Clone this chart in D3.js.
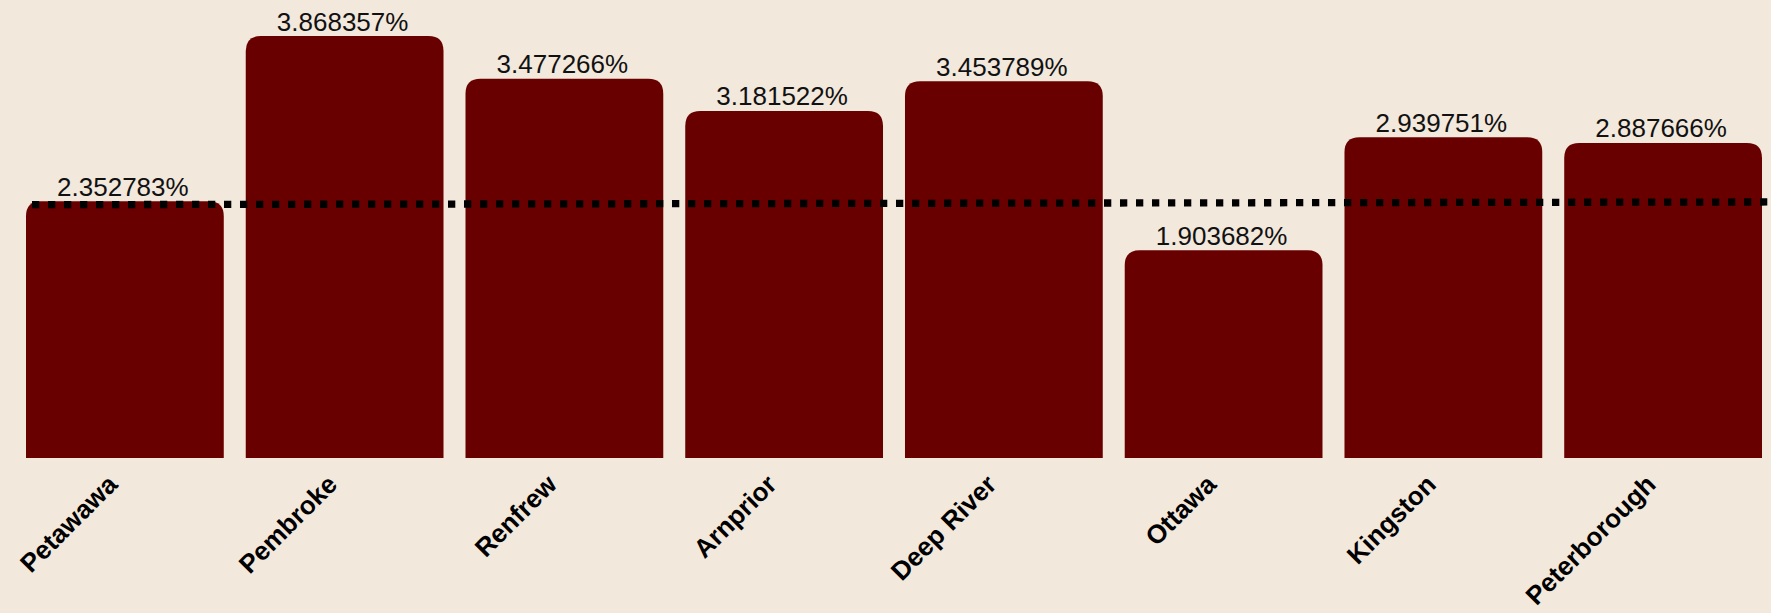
<!DOCTYPE html>
<html>
<head>
<meta charset="utf-8">
<script src="https://cdn.jsdelivr.net/npm/d3@7"></script>
<style>
  html, body { margin: 0; padding: 0; background: #F2E8DC; }
  svg { display: block; }
</style>
</head>
<body>
<svg id="chart" width="1771" height="613"></svg>
<script>
const categories = ["Petawawa", "Pembroke", "Renfrew", "Arnprior", "Deep River", "Ottawa", "Kingston", "Peterborough"];
const values = [2.352783, 3.868357, 3.477266, 3.181522, 3.453789, 1.903682, 2.939751, 2.887666];
const valueLabels = ["2.352783%", "3.868357%", "3.477266%", "3.181522%", "3.453789%", "1.903682%", "2.939751%", "2.887666%"];
const referenceLine = [2.322, 2.347]; // start and end values of dotted line

const W = 1771, H = 613;
const svg = d3.select("#chart");
svg.append("rect").attr("width", W).attr("height", H).attr("fill", "#F2E8DC");

const x = d3.scaleBand().domain(categories).range([26, 1762]).paddingInner(0.1).paddingOuter(0);
const y = d3.scaleLinear().domain([0, d3.max(values)]).range([458, 36]);

const r = 15;
function barPath(x0, w, yTop, yBot) {
  return `M${x0},${yBot} L${x0},${yTop + r} Q${x0},${yTop} ${x0 + r},${yTop} L${x0 + w - r},${yTop} Q${x0 + w},${yTop} ${x0 + w},${yTop + r} L${x0 + w},${yBot} Z`;
}

svg.append("g").selectAll("path").data(categories).join("path")
  .attr("d", (c, i) => barPath(x(c), x.bandwidth(), y(values[i]), y(0)))
  .attr("fill", "#690000");

svg.append("g").selectAll("text").data(categories).join("text")
  .attr("x", c => x(c) + x.bandwidth() / 2 - 2)
  .attr("y", (c, i) => y(values[i]) - 5.5)
  .attr("text-anchor", "middle")
  .attr("font-family", "'Liberation Sans', Arial, sans-serif")
  .attr("font-size", 26)
  .attr("fill", "#111")
  .text((c, i) => valueLabels[i]);

// dotted reference line
svg.append("line")
  .attr("x1", x.range()[0] + 6)
  .attr("x2", W)
  .attr("y1", y(referenceLine[0]))
  .attr("y2", y(referenceLine[1]))
  .attr("stroke", "#000")
  .attr("stroke-width", 7.3)
  .attr("stroke-dasharray", "7.3,8.7");

// x axis labels
svg.append("g").selectAll("text").data(categories).join("text")
  .attr("transform", c => `translate(${x(c) + x.bandwidth() / 2 - 6},486) rotate(-45)`)
  .attr("text-anchor", "end")
  .attr("font-family", "'Liberation Sans', Arial, sans-serif")
  .attr("font-weight", "bold")
  .attr("font-size", 26)
  .attr("fill", "#000")
  .text(c => c);
</script>
</body>
</html>
